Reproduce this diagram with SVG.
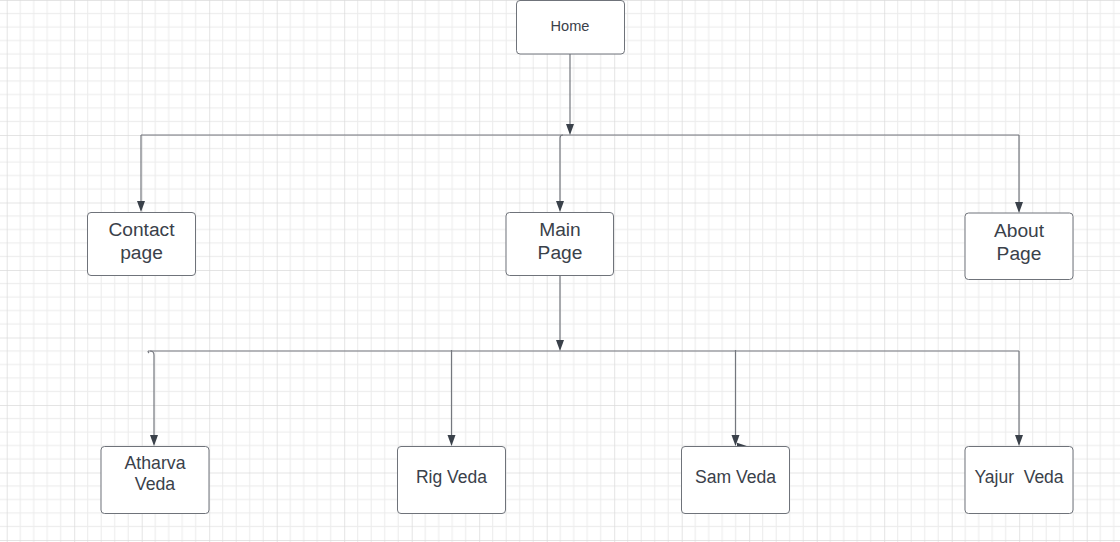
<svg xmlns="http://www.w3.org/2000/svg" width="1120" height="542" viewBox="0 0 1120 542">
  <defs>
    <pattern id="grid" patternUnits="userSpaceOnUse" x="6.7" y="0" width="67.5" height="67.5">
      <rect width="67.5" height="67.5" fill="#ffffff"/>
      <g fill="#ececec">
        <rect x="13" y="0" width="1" height="67.5"/>
        <rect x="26.5" y="0" width="1" height="67.5"/>
        <rect x="40" y="0" width="1" height="67.5"/>
        <rect x="53.5" y="0" width="1" height="67.5"/>
        <rect x="0" y="13" width="67.5" height="1"/>
        <rect x="0" y="26.5" width="67.5" height="1"/>
        <rect x="0" y="40" width="67.5" height="1"/>
        <rect x="0" y="53.5" width="67.5" height="1"/>
      </g>
      <g fill="#dadada">
        <rect x="-0.5" y="0" width="1.2" height="67.5"/>
        <rect x="0" y="-0.5" width="67.5" height="1.2"/>
      </g>
    </pattern>
    <style>
      .node rect { fill: #ffffff; stroke: #6f737a; stroke-width: 1; }
      .node text { font-family: "Liberation Sans", Arial, sans-serif; fill: #3a414a; text-anchor: middle; }
      .conn path.ln { fill: none; stroke: #74777e; stroke-width: 1.2; }
      .conn path.ah { fill: #3a414a; stroke: none; }
    </style>
  </defs>
  <rect x="0" y="0" width="1120" height="542" fill="url(#grid)"/>

  <g id="connectors" class="conn">
    <path class="ln" d="M570 54 V124"/>
    <path class="ln" d="M141 135 H1019"/>
    <path class="ln" d="M141 135 V201"/>
    <path class="ln" d="M563 135 Q560 135 560 138 V201"/>
    <path class="ln" d="M1019 135 V202"/>
    <path class="ln" d="M560 275.5 V340"/>
    <path class="ln" d="M148 351 H1019"/>
    <path class="ln" d="M148 351 Q148 352 149 353"/>
    <path class="ln" d="M150 351 Q154 351 154 355 V435"/>
    <path class="ln" d="M451.5 350 V435"/>
    <path class="ln" d="M735.5 350 V435"/>
    <path class="ln" d="M1019 351 V435"/>
    <path class="ah" d="M566 124 L570 135 L574 124 Z"/>
    <path class="ah" d="M137 201 L141 212 L145 201 Z"/>
    <path class="ah" d="M556 201 L560 212 L564 201 Z"/>
    <path class="ah" d="M1015 202 L1019 213 L1023 202 Z"/>
    <path class="ah" d="M556 340 L560 351 L564 340 Z"/>
    <path class="ah" d="M150 435 L154 446 L158 435 Z"/>
    <path class="ah" d="M447.5 435 L451.5 446 L455.5 435 Z"/>
    <path class="ah" d="M731.5 435 L735.5 446 L739.5 435 Z"/>
    <path class="ah" d="M737 442.8 L747.5 446.2 L737 449.5 Z"/>
    <path class="ah" d="M1015 435 L1019 446 L1023 435 Z"/>
  </g>

  <g id="home" class="node">
    <rect x="516.5" y="0.5" width="108" height="53.5" rx="3.5"/>
    <text x="570" y="30.5" font-size="14.6">Home</text>
  </g>
  <g id="contact" class="node">
    <rect x="87.5" y="212.5" width="108" height="63" rx="3.5"/>
    <text x="141.5" y="235.7" font-size="19.2">Contact</text>
    <text x="141.5" y="258.5" font-size="19.2">page</text>
  </g>
  <g id="main" class="node">
    <rect x="506" y="212.5" width="107.5" height="63" rx="3.5"/>
    <text x="560" y="235.7" font-size="19.2">Main</text>
    <text x="560" y="258.5" font-size="19.2">Page</text>
  </g>
  <g id="about" class="node">
    <rect x="965" y="213" width="108" height="66.5" rx="3.5"/>
    <text x="1019" y="237.3" font-size="19.2">About</text>
    <text x="1019" y="260" font-size="19.2">Page</text>
  </g>
  <g id="atharva" class="node">
    <rect x="101" y="446.5" width="108" height="67" rx="3.5"/>
    <text x="155" y="469.3" font-size="17.7">Atharva</text>
    <text x="155" y="489.7" font-size="17.7">Veda</text>
  </g>
  <g id="rig" class="node">
    <rect x="397.5" y="446.5" width="108" height="67" rx="3.5"/>
    <text x="451.5" y="482.7" font-size="17.5">Rig Veda</text>
  </g>
  <g id="sam" class="node">
    <rect x="681.5" y="446.5" width="108" height="67" rx="3.5"/>
    <text x="735.5" y="482.7" font-size="17.6">Sam Veda</text>
  </g>
  <g id="yajur" class="node">
    <rect x="965" y="446.5" width="108" height="67" rx="3.5"/>
    <text x="1019" y="482.7" font-size="17.5" xml:space="preserve">Yajur  Veda</text>
  </g>
</svg>
